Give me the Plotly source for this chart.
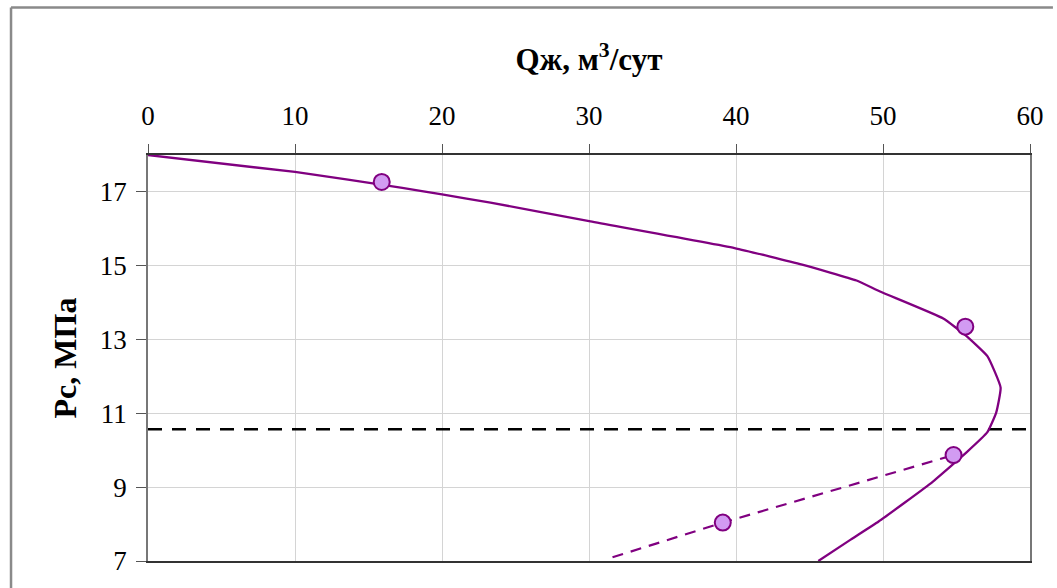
import plotly.graph_objects as go

# Inflow curve: liquid rate Q (m3/day) vs bottomhole pressure P (MPa)
q_curve = [0, 10, 17.3, 20, 23.3, 30.1, 39.9, 44.5, 48.2, 49.8, 54.1, 55.6, 57.1, 58.0, 57.7, 57.1, 55.7, 53.2, 49.7, 47.8, 45.6]
p_curve = [18.0, 17.54, 17.11, 16.93, 16.71, 16.2, 15.48, 15.03, 14.6, 14.3, 13.57, 13.12, 12.55, 11.7, 11.02, 10.49, 9.95, 9.09, 8.07, 7.58, 7.0]

# Measured points
q_points = [15.9, 55.6, 54.8, 39.1]
p_points = [17.27, 13.35, 9.87, 8.04]

# Trend through the lower measurements
q_trend = [31.6, 39.1, 54.8]
p_trend = [7.1, 8.04, 9.87]

# Saturation pressure level
p_sat = 10.57

x_ticks = [0, 10, 20, 30, 40, 50, 60]
y_ticks = [7, 9, 11, 13, 15, 17]

purple = "#800080"
serif = "Liberation Serif, Times New Roman, serif"

fig = go.Figure()

fig.add_trace(go.Scatter(
    x=[0, 60], y=[p_sat, p_sat], mode="lines",
    line=dict(color="black", width=2.5, dash="14px,10px"),
    showlegend=False, hoverinfo="skip"))

fig.add_trace(go.Scatter(
    x=q_curve, y=p_curve, mode="lines",
    line=dict(color=purple, width=2.3, shape="spline", smoothing=0.4),
    showlegend=False))

fig.add_trace(go.Scatter(
    x=q_trend, y=p_trend, mode="lines",
    line=dict(color=purple, width=2.2, dash="11px,8px"),
    showlegend=False))

fig.add_trace(go.Scatter(
    x=q_points, y=p_points, mode="markers",
    marker=dict(size=16, color="#D29BF2", line=dict(color=purple, width=2)),
    showlegend=False))

# Outer chart frame (top and left edges)
fig.add_shape(type="line", xref="paper", yref="paper",
              x0=-0.1553, x1=1.026, y0=1.3634, y1=1.3634,
              line=dict(color="#8a8a8a", width=2.5))
fig.add_shape(type="line", xref="paper", yref="paper",
              x0=-0.1553, x1=-0.1553, y0=1.3634, y1=-0.07,
              line=dict(color="#8a8a8a", width=2.5))

fig.update_layout(
    width=1057, height=588,
    margin=dict(l=148, r=27, t=155, b=23),
    paper_bgcolor="white", plot_bgcolor="white",
    font=dict(family=serif, color="black", size=27),
    xaxis=dict(
        side="top", range=[0, 60], tickvals=x_ticks,
        ticks="outside", ticklen=9, tickcolor="#555", tickwidth=1,
        ticklabelstandoff=8,
        showgrid=True, gridcolor="#d4d4d4", gridwidth=1,
        showline=True, linecolor="#333", linewidth=1.5, mirror=True,
        zeroline=False, tickfont=dict(size=27, family=serif),
        title=dict(text="<b>Qж, м<sup>3</sup>/сут</b>", font=dict(size=31, family=serif), standoff=22),
    ),
    yaxis=dict(
        range=[7, 18], tickvals=y_ticks,
        ticks="outside", ticklen=10, tickcolor="#555", tickwidth=1,
        ticklabelstandoff=4,
        showgrid=True, gridcolor="#d4d4d4", gridwidth=1,
        showline=True, linecolor="#777", linewidth=1.5, mirror=True,
        zeroline=False, tickfont=dict(size=27, family=serif),
        title=dict(text="<b>Рс, МПа</b>", font=dict(size=32, family=serif), standoff=14),
    ),
)

fig.write_html("out.html")
